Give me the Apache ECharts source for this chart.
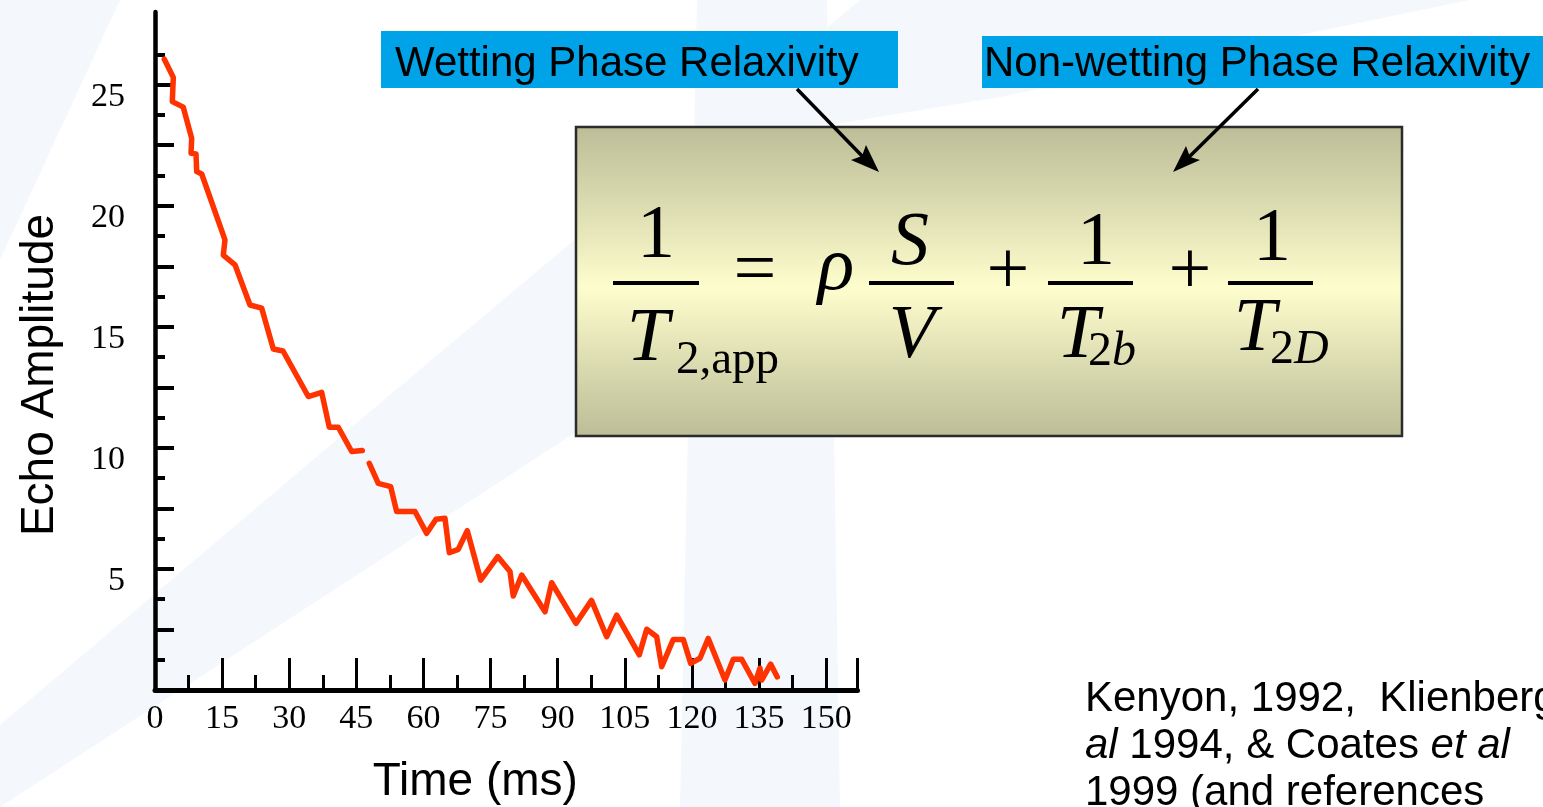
<!DOCTYPE html>
<html>
<head>
<meta charset="utf-8">
<script src="https://cdn.jsdelivr.net/npm/echarts@6/dist/echarts.min.js"></script>
<style>
  html, body { margin: 0; padding: 0; background: #fff; }
  #chart { width: 1543px; height: 807px; }
</style>
</head>
<body>
<div id="chart"></div>
<script>
// echo train (null = gap in the trace)
const timeMs = [2.08, 4.09, 3.87, 6.32, 8.20, 8.05, 9.16, 9.32, 10.44, 15.64,
  15.26, 17.88, 21.23, 23.85, 26.44, 28.61, 34.26, 37.25, 38.95, 40.96,
  43.96, 46.33, 47.1,
  47.89, 49.90, 52.67, 54.01, 58.10, 60.72, 62.80, 64.81, 65.77, 67.78,
  69.79, 72.79, 76.59, 79.34, 80.07, 81.95, 87.16, 88.65, 94.08, 97.55,
  100.94, 103.18, 108.23, 109.89, 112.12, 113.24, 115.83, 118.06, 119.72, 121.80,
  123.65, 127.38, 129.24, 131.11, 134.09, 135.20, 135.58, 137.59, 139.07]
const echoAmp = [26.05, 25.30, 24.30, 24.07, 22.78, 22.17, 22.14, 21.41, 21.31, 18.59,
  17.96, 17.56, 15.90, 15.77, 14.08, 14.00, 12.12, 12.29, 10.85, 10.85,
  9.85, 9.89, null,
  9.36, 8.53, 8.40, 7.37, 7.37, 6.47, 7.05, 7.09, 5.67, 5.81,
  6.58, 4.54, 5.51, 4.89, 3.88, 4.75, 3.23, 4.43, 2.75, 3.70,
  2.20, 3.09, 1.45, 2.51, 2.20, 0.96, 2.09, 2.09, 1.10, 1.31,
  2.13, 0.41, 1.27, 1.27, 0.27, 0.90, 0.41, 1.07, 0.54]

const xTickLabels = [0, 15, 30, 45, 60, 75, 90, 105, 120, 135, 150]
const yTickLabels = [5, 10, 15, 20, 25]
const yMajorTicks = [2.5, 5, 7.5, 10, 12.5, 15, 17.5, 20, 22.5, 25]

const seriesData = timeMs.map((t, i) => (echoAmp[i] === null ? [t, '-'] : [t, echoAmp[i]]))

const serif = '"Liberation Serif", "Times New Roman", serif'
const sans = '"Liberation Sans", Arial, sans-serif'

function txt(x, y, text, size, opts) {
  opts = opts || {}
  return {
    type: 'text', x: x, y: y, z: 20,
    style: {
      text: text,
      fontSize: size,
      fontFamily: opts.family || serif,
      fontStyle: opts.italic ? 'italic' : 'normal',
      fill: '#000',
      align: opts.align || 'center', textAlign: opts.align || 'center',
      verticalAlign: 'middle', textVerticalAlign: 'middle',
      rich: opts.rich
    }
  }
}
function bar(x1, x2, y) {
  return { type: 'line', z: 20, shape: { x1: x1, y1: y, x2: x2, y2: y }, style: { stroke: '#000', lineWidth: 4 } }
}

const subRich = {
  r: { fontSize: 48, fontFamily: serif, fontStyle: 'normal' },
  i: { fontSize: 48, fontFamily: serif, fontStyle: 'italic' }
}
const citeRich = {
  n: { fontSize: 42, fontFamily: sans, fontStyle: 'normal', lineHeight: 47 },
  i: { fontSize: 42, fontFamily: sans, fontStyle: 'italic', lineHeight: 47 }
}
const bandColor = '#f4f7fc'

const option = {
  animation: false,
  grid: { left: 155, top: 12, width: 702.5, height: 678, outerBoundsMode: 'none' },
  xAxis: {
    type: 'value', min: 0, max: 157, interval: 15,
    name: 'Time (ms)', nameLocation: 'middle', nameGap: 69,
    nameTextStyle: { fontFamily: sans, fontSize: 46, color: '#000', padding: [0, 62, 0, 0] },
    axisLine: { show: true, lineStyle: { color: '#000', width: 5 } },
    axisTick: { show: true, inside: true, length: 32, lineStyle: { color: '#000', width: 3 } },
    minorTick: { show: true, splitNumber: 2, length: 15, lineStyle: { color: '#000', width: 3 } },
    axisLabel: { customValues: xTickLabels, fontFamily: serif, fontSize: 34, color: '#000', margin: 12 },
    splitLine: { show: false }
  },
  yAxis: {
    type: 'value', min: 0, max: 28, interval: 2.5,
    name: 'Echo Amplitude', nameLocation: 'middle', nameRotate: 90, nameGap: 92,
    nameTextStyle: { fontFamily: sans, fontSize: 46, color: '#000', padding: [0, 48, 0, 0] },
    axisLine: { show: true, lineStyle: { color: '#000', width: 4.5 } },
    axisTick: { show: true, inside: true, length: 19, customValues: yMajorTicks, lineStyle: { color: '#000', width: 4 } },
    minorTick: { show: true, splitNumber: 2, length: 10, lineStyle: { color: '#000', width: 4 } },
    axisLabel: {
      customValues: yTickLabels, fontFamily: serif, fontSize: 34, color: '#000', margin: 30,
      verticalAlign: 'top', lineHeight: 24
    },
    splitLine: { show: false }
  },
  series: [{
    type: 'line',
    data: seriesData,
    symbol: 'none',
    connectNulls: false,
    clip: false,
    lineStyle: { color: '#ff3300', width: 5.5, cap: 'round', join: 'round' }
  }],
  graphic: [
    // faint slide background swooshes
    { type: 'polygon', z: -10, shape: { points: [[0, 0], [120, 0], [0, 260]] }, style: { fill: bandColor } },
    { type: 'polygon', z: -10, shape: { points: [[0, 725], [360, 420], [860, 0], [1470, 0], [1000, 97], [830, 125], [576, 432], [360, 573], [0, 807]] }, style: { fill: bandColor } },
    { type: 'polygon', z: -10, shape: { points: [[697, 0], [827, 0], [840, 807], [680, 807]] }, style: { fill: bandColor } },

    // blue callouts
    { type: 'rect', z: 15, shape: { x: 381, y: 31, width: 517, height: 57 }, style: { fill: '#00a3e8' } },
    txt(395, 64, 'Wetting Phase Relaxivity', 42, { family: sans, align: 'left' }),
    { type: 'rect', z: 15, shape: { x: 982, y: 36, width: 561, height: 52 }, style: { fill: '#00a3e8' } },
    txt(984, 64, 'Non-wetting Phase Relaxivity', 42, { family: sans, align: 'left' }),

    // arrows
    { type: 'line', z: 20, shape: { x1: 797, y1: 89, x2: 864, y2: 158 }, style: { stroke: '#000', lineWidth: 3.5 } },
    { type: 'polygon', z: 20, shape: { points: [[879, 172], [851, 160], [862, 156], [866, 145]] }, style: { fill: '#000' } },
    { type: 'line', z: 20, shape: { x1: 1258, y1: 89, x2: 1187, y2: 159 }, style: { stroke: '#000', lineWidth: 3.5 } },
    { type: 'polygon', z: 20, shape: { points: [[1173, 172], [1186, 146], [1190, 157], [1200, 160]] }, style: { fill: '#000' } },

    // equation panel
    {
      type: 'rect', z: 10,
      shape: { x: 576, y: 127, width: 826, height: 309 },
      style: {
        stroke: '#2b2b2b', lineWidth: 2.5,
        fill: {
          type: 'linear', x: 0, y: 0, x2: 0, y2: 1,
          colorStops: [
            { offset: 0, color: '#bcbc97' },
            { offset: 0.52, color: '#fdfdcd' },
            { offset: 1, color: '#bcbc97' }
          ]
        }
      }
    },
    txt(656, 237, '1', 76),
    bar(613, 699, 283),
    txt(648, 340, 'T', 76, { italic: true }),
    txt(676, 361, '2,app', 47, { align: 'left' }),
    txt(755, 273, '=', 76),
    txt(836, 269, 'ρ', 76, { italic: true }),
    bar(869, 954, 283),
    txt(910, 244, 'S', 76, { italic: true }),
    txt(912, 337, 'V', 76, { italic: true }),
    txt(1008, 273, '+', 76),
    bar(1048, 1133, 283),
    txt(1096, 244, '1', 76),
    txt(1078, 337, 'T', 76, { italic: true }),
    txt(1088, 352, '{r|2}{i|b}', 48, { align: 'left', rich: subRich }),
    txt(1190, 273, '+', 76),
    bar(1228, 1313, 283),
    txt(1272, 240, '1', 76),
    txt(1255, 330, 'T', 76, { italic: true }),
    txt(1270, 350, '{r|2}{i|D}', 48, { align: 'left', rich: subRich }),

    // reference note, runs off the slide
    {
      type: 'text', x: 1085, y: 676, z: 20,
      style: {
        text: '{n|Kenyon, 1992,  Klienberg et}\n{i|al}{n| 1994, & Coates }{i|et al}\n{n|1999 (and references}',
        rich: citeRich, fill: '#000',
        align: 'left', textAlign: 'left', verticalAlign: 'top', textVerticalAlign: 'top'
      }
    }
  ]
}

const myChart = echarts.init(document.getElementById('chart'))
myChart.setOption(option)
</script>
</body>
</html>
